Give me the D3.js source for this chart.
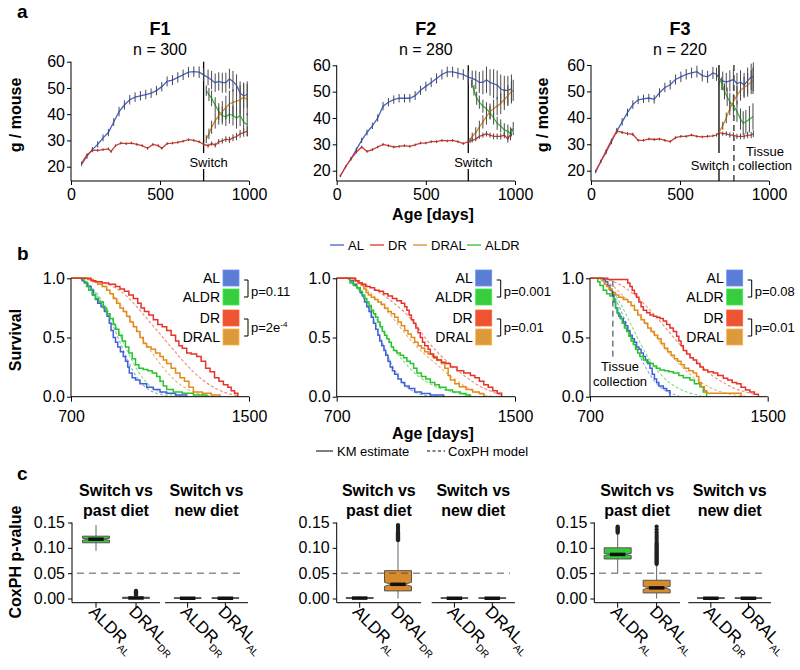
<!DOCTYPE html>
<html>
<head>
<meta charset="utf-8">
<script src="https://cdn.jsdelivr.net/npm/d3@7"></script>
<style>
body { margin: 0; background: #fff; }
svg { font-family: "Liberation Sans", Arial, sans-serif; }
</style>
</head>
<body>
<svg id="fig" width="800" height="670"></svg>
<script>
// ---------- data: panel a (body weight, [age, mean, se]) ----------
const cohorts = ['F1', 'F2', 'F3'];
const cohortN = [300, 280, 220];
const switchAge = [745, 738, 719];
const tissueAge = 803;

const f1AL = [[60,21,0.8],[90,24,1],[120,26.5,1],[150,28.5,1.2],[180,31,1.3],[210,33,1.4],[240,37,1.5],[270,41,1.8],[300,43.5,1.8],[330,45.5,1.8],[360,46.5,1.8],[390,47,1.8],[420,47.5,1.8],[450,48,1.8],[480,49,1.8],[510,50.5,1.8],[540,52.5,1.9],[570,53,1.9],[600,54,2],[630,55,2],[660,56,2],[690,56.2,2],[720,56,2.2],[745,55,2.5],[770,54,3],[790,53,3.5],[810,52,3.5],[830,52.5,3.5],[850,52,3.8],[870,52,3.8],[890,53.5,3.8],[910,52.5,4],[930,51,4.2],[950,48,4.5],[970,47,4.8],[990,47.5,5]];
const f1DR = [[60,21.5,0.4],[90,24.5,0.4],[120,26.3,0.4],[150,26.2,0.5],[180,26.5,0.5],[210,26.8,0.5],[225,25.8,0.5],[250,28,0.5],[280,29,0.5],[310,28.8,0.5],[340,29,0.5],[370,28.5,0.5],[400,28,0.5],[430,27,0.5],[460,28.5,0.5],[490,28,0.5],[510,27,0.5],[540,28.8,0.5],[570,29,0.5],[600,29.3,0.5],[630,29.7,0.5],[660,30.3,0.5],[690,30,0.5],[720,29.5,0.5],[745,28.5,0.6],[770,28,0.8],[790,28.8,0.8],[810,28.2,0.9],[830,29.5,1],[850,29.8,1],[870,30.5,1.1],[890,30.2,1.2],[910,31,1.3],[930,31.5,1.4],[950,32.5,1.5],[970,33,1.6],[990,33.5,1.8]];
const f1ALDR = [[760,49,2],[775,47.5,2.5],[790,46,3],[810,43.5,3],[830,41,3.2],[850,39.5,3.4],[870,39,3.5],[890,40,3.6],[910,39.5,3.8],[930,38.5,4],[950,39.5,4],[970,37,4.2],[990,36,4.5]];
const f1DRAL = [[760,30.5,1.5],[775,32.5,2],[790,35,2.5],[810,37.5,3],[830,39.5,3.5],[850,41,4],[870,42.5,4.5],[890,44,5],[910,44.5,5],[930,45,5.5],[950,45.5,5.5],[970,46.5,5.5],[990,45.5,6]];

const f2AL = [[20,18,0.5],[50,21.5,0.6],[80,24.5,0.7],[110,28,0.8],[140,31.5,1],[170,34.5,1.1],[200,37,1.2],[230,40,1.4],[260,44.5,1.6],[290,46,1.6],[320,47,1.6],[350,47.5,1.6],[380,47.5,1.6],[410,47.5,1.6],[440,48.5,1.7],[470,50.5,1.7],[500,52,1.8],[530,53.5,1.8],[560,55,1.9],[590,56.5,1.9],[620,57.5,2],[650,57.5,2],[680,57,2],[710,56.5,2],[738,55.5,2.5],[760,55,3],[780,54.5,3.5],[800,53.5,4],[820,53.5,4.5],[840,54.5,5],[860,53.5,5],[880,53,5.5],[900,52.5,5.5],[920,51,5.5],[940,50.5,5.5],[960,50.5,5.5],[980,51,5.5]];
const f2DR = [[20,18,0.3],[50,21.5,0.3],[80,24.5,0.4],[110,27,0.4],[140,29,0.5],[170,27.3,0.5],[200,28,0.5],[230,29,0.5],[260,30,0.5],[290,29.5,0.5],[320,29,0.5],[350,29.2,0.5],[380,29.5,0.5],[410,29.2,0.5],[440,29.8,0.5],[470,30.5,0.5],[500,30.5,0.5],[530,31,0.5],[560,31,0.5],[590,31.5,0.5],[620,31.3,0.5],[650,31.5,0.5],[680,31,0.5],[710,30.3,0.5],[738,31,0.6],[760,31.5,0.8],[780,32,0.8],[800,33,0.9],[820,33.5,1],[840,34,1],[860,33.5,1],[880,33,1.1],[900,33,1.1],[920,33,1.2],[940,33.5,1.2],[960,32,1.3],[980,34.5,1.5]];
const f2ALDR = [[757,53,1.5],[770,50.5,2],[785,47.5,2.5],[800,46,2.5],[820,44.5,2.5],[840,43.5,2.5],[860,42,2.5],[880,40,2.5],[900,38,2.5],[920,37,2.5],[940,35.5,2.5],[960,35,2.5],[975,34,2.5],[990,36,2.5]];
const f2DRAL = [[748,31.5,1],[760,33,1.5],[780,34.5,2],[800,36.5,2.5],[820,38.5,2.5],[840,40.5,3],[860,42.5,3],[880,43.5,3.5],[900,44.5,3.5],[920,45.5,4],[940,47,4],[960,48.5,4],[980,50,4],[990,50.5,4]];

const f3AL = [[26,19.5,0.5],[55,23.5,0.7],[85,27,0.8],[115,31,1],[145,35,1.2],[175,38.5,1.4],[205,42,1.5],[235,45,1.6],[265,46.8,1.6],[295,47.2,1.6],[325,47.5,1.6],[355,47,1.6],[385,49.5,1.7],[415,51.5,1.8],[445,52.5,1.8],[475,54.5,1.9],[505,55.5,2],[535,56.5,2],[565,57,2],[595,57.5,2.2],[625,56,2.2],[655,55.5,2.3],[685,57,2.3],[705,56.5,2.5],[719,55,3],[740,54,3.5],[760,53.5,3.5],[780,54,4],[800,54.5,4],[820,53,4],[840,53.5,4.5],[860,52.5,4.5],[880,54,5],[900,55.5,5],[912,55.5,5.5]];
const f3DR = [[26,20,0.3],[55,23.5,0.4],[85,27.5,0.5],[115,31.5,0.6],[145,35,0.7],[175,34.5,0.6],[205,34,0.6],[235,33.8,0.6],[265,31.5,0.5],[295,31.5,0.5],[325,32,0.5],[355,31.8,0.5],[385,32,0.5],[415,31.5,0.5],[445,31,0.5],[475,32.5,0.5],[505,33,0.5],[535,33,0.5],[565,33.5,0.5],[595,33,0.5],[625,32.8,0.5],[655,33,0.5],[685,33.2,0.5],[705,33.5,0.6],[719,34.5,0.8],[740,34,0.8],[760,34,0.9],[780,33.5,1],[800,33.5,1],[820,33,1],[840,33,1.1],[860,33,1.1],[880,33.5,1.2],[900,33.5,1.2],[912,34,1.3]];
const f3ALDR = [[719,55,2],[735,53,2.5],[750,50,3],[765,48,3.5],[780,46,3.5],[800,44.5,4],[820,42.5,4],[840,39.5,4],[855,38,4.5],[870,38.5,4.5],[890,39.5,5],[910,40.5,5]];
const f3DRAL = [[719,34.5,1],[740,37,1.5],[760,40,2],[780,43.5,2.5],[800,46,3],[820,48.5,3.5],[840,50.5,4],[860,51.5,4],[880,52.5,4.5],[900,53.5,4.5],[910,54,5]];

// ---------- data: panel b (survival, [age, fraction]) ----------
const km1AL = [[700,1],[745,1],[750,0.98],[760,0.96],[775,0.93],[790,0.9],[800,0.86],[810,0.82],[820,0.79],[835,0.76],[850,0.72],[862,0.68],[872,0.62],[880,0.56],[890,0.5],[900,0.46],[910,0.42],[922,0.38],[935,0.34],[945,0.3],[955,0.25],[962,0.2],[975,0.16],[990,0.14],[1010,0.11],[1040,0.08],[1070,0.06],[1100,0.04],[1130,0.03],[1170,0.015],[1220,0]];
const km1ALDR = [[700,1],[755,1],[760,0.97],[770,0.93],[780,0.9],[795,0.86],[810,0.83],[825,0.8],[845,0.75],[860,0.7],[875,0.66],[890,0.61],[900,0.57],[915,0.52],[930,0.47],[945,0.42],[960,0.37],[975,0.32],[990,0.27],[1005,0.24],[1025,0.23],[1045,0.22],[1065,0.2],[1085,0.17],[1100,0.13],[1115,0.09],[1130,0.06],[1160,0.04],[1200,0.03],[1250,0.015],[1310,0]];
const km1DRAL = [[700,1],[760,1],[775,0.99],[800,0.97],[820,0.95],[840,0.93],[860,0.9],[875,0.87],[890,0.83],[905,0.79],[920,0.75],[935,0.72],[950,0.68],[965,0.63],[980,0.59],[995,0.55],[1010,0.5],[1025,0.45],[1040,0.42],[1060,0.4],[1080,0.37],[1100,0.34],[1115,0.31],[1130,0.28],[1150,0.24],[1170,0.2],[1190,0.16],[1210,0.13],[1230,0.08],[1250,0.04],[1290,0.03],[1330,0.015],[1370,0]];
const km1DR = [[700,1],[770,1],[790,0.98],[810,0.97],[840,0.96],[870,0.95],[900,0.93],[920,0.91],[940,0.89],[960,0.86],[980,0.83],[1000,0.79],[1015,0.75],[1030,0.72],[1050,0.69],[1070,0.65],[1090,0.61],[1110,0.59],[1130,0.56],[1150,0.52],[1170,0.47],[1185,0.43],[1200,0.41],[1220,0.37],[1240,0.36],[1265,0.34],[1285,0.3],[1305,0.24],[1325,0.21],[1345,0.16],[1365,0.13],[1385,0.1],[1405,0.08],[1420,0.05],[1435,0.03],[1450,0]];
const cox1AL = [[740,1],[800,0.9],[850,0.75],[900,0.55],[950,0.33],[1000,0.15],[1050,0.06],[1100,0.02],[1150,0.003]];
const cox1ALDR = [[750,1],[800,0.91],[850,0.78],[900,0.6],[950,0.4],[1000,0.22],[1050,0.1],[1100,0.04],[1200,0.005]];
const cox1DRAL = [[760,1],[850,0.93],[900,0.83],[950,0.7],[1000,0.55],[1050,0.41],[1100,0.28],[1150,0.17],[1200,0.09],[1250,0.04],[1300,0.015],[1350,0.005]];
const cox1DR = [[760,1],[850,0.96],[900,0.92],[950,0.85],[1000,0.75],[1050,0.64],[1100,0.53],[1150,0.42],[1200,0.31],[1250,0.21],[1300,0.13],[1350,0.07],[1400,0.03],[1450,0.01]];

const km2AL = [[700,1],[745,1],[760,0.98],[775,0.95],[790,0.92],[805,0.88],[815,0.85],[825,0.8],[835,0.76],[845,0.72],[855,0.67],[865,0.62],[875,0.57],[885,0.52],[893,0.47],[902,0.43],[912,0.39],[920,0.35],[930,0.3],[940,0.25],[950,0.22],[960,0.19],[975,0.15],[990,0.12],[1005,0.09],[1025,0.07],[1050,0.04],[1080,0.028],[1120,0.014],[1180,0]];
const km2ALDR = [[700,1],[750,1],[760,0.96],[775,0.94],[790,0.92],[805,0.89],[815,0.86],[825,0.83],[835,0.8],[845,0.77],[855,0.73],[865,0.7],[875,0.67],[885,0.63],[895,0.59],[905,0.55],[915,0.52],[925,0.49],[935,0.46],[945,0.42],[955,0.39],[970,0.37],[985,0.35],[1000,0.33],[1015,0.3],[1030,0.28],[1045,0.24],[1060,0.2],[1080,0.17],[1100,0.15],[1120,0.12],[1140,0.1],[1160,0.08],[1190,0.056],[1220,0.04],[1255,0.028],[1280,0.015],[1300,0]];
const km2DRAL = [[700,1],[760,1],[780,0.98],[795,0.96],[810,0.94],[822,0.91],[832,0.88],[842,0.86],[855,0.84],[870,0.82],[885,0.8],[900,0.78],[915,0.75],[930,0.72],[945,0.7],[960,0.67],[975,0.63],[990,0.6],[1005,0.56],[1020,0.53],[1035,0.5],[1050,0.46],[1065,0.43],[1080,0.41],[1095,0.38],[1110,0.36],[1130,0.34],[1150,0.31],[1170,0.28],[1185,0.24],[1200,0.18],[1210,0.14],[1230,0.11],[1250,0.085],[1280,0.06],[1310,0.04],[1340,0.028],[1360,0]];
const km2DR = [[700,1],[765,1],[785,0.98],[800,0.96],[815,0.95],[830,0.93],[850,0.92],[870,0.9],[890,0.89],[910,0.87],[930,0.85],[950,0.83],[970,0.81],[990,0.79],[1005,0.76],[1015,0.73],[1025,0.69],[1035,0.65],[1045,0.62],[1055,0.58],[1065,0.54],[1075,0.5],[1085,0.46],[1095,0.43],[1110,0.4],[1120,0.36],[1135,0.33],[1150,0.31],[1170,0.29],[1190,0.28],[1210,0.25],[1240,0.22],[1270,0.2],[1300,0.18],[1320,0.16],[1340,0.13],[1360,0.1],[1380,0.08],[1400,0.05],[1420,0.03],[1440,0]];
const cox2AL = [[745,1],[800,0.9],[850,0.72],[900,0.48],[950,0.26],[1000,0.11],[1050,0.04],[1100,0.01],[1150,0.002]];
const cox2ALDR = [[750,1],[800,0.9],[850,0.76],[900,0.58],[950,0.42],[1000,0.3],[1050,0.2],[1100,0.13],[1150,0.08],[1200,0.05],[1250,0.025],[1300,0.01]];
const cox2DRAL = [[760,1],[800,0.96],[850,0.88],[900,0.78],[950,0.67],[1000,0.55],[1050,0.44],[1100,0.35],[1150,0.27],[1200,0.19],[1250,0.12],[1300,0.06],[1350,0.02],[1400,0.005]];
const cox2DR = [[765,1],[850,0.93],[900,0.87],[950,0.8],[1000,0.72],[1050,0.62],[1100,0.49],[1150,0.38],[1200,0.29],[1250,0.21],[1300,0.14],[1350,0.08],[1400,0.04],[1440,0.01]];

const km3AL = [[700,1],[750,1],[760,0.99],[770,0.97],[780,0.94],[790,0.9],[800,0.86],[808,0.8],[815,0.75],[822,0.71],[830,0.68],[840,0.66],[850,0.63],[860,0.6],[870,0.56],[880,0.52],[890,0.49],[900,0.46],[910,0.42],[920,0.4],[930,0.37],[940,0.34],[950,0.31],[960,0.28],[970,0.24],[980,0.19],[990,0.15],[1000,0.12],[1010,0.09],[1030,0.07],[1045,0.05],[1060,0]];
const km3ALDR = [[700,1],[725,1],[735,0.97],[745,0.94],[760,0.9],[775,0.87],[790,0.85],[805,0.82],[815,0.75],[825,0.7],[835,0.66],[845,0.62],[855,0.58],[865,0.55],[875,0.51],[885,0.47],[895,0.44],[905,0.4],[915,0.37],[925,0.34],[940,0.31],[955,0.29],[970,0.28],[985,0.26],[1000,0.24],[1015,0.225],[1035,0.22],[1055,0.21],[1075,0.2],[1100,0.18],[1120,0.16],[1150,0.14],[1170,0.11],[1195,0.085],[1210,0.04],[1225,0]];
const km3DRAL = [[700,1],[745,1],[755,0.98],[765,0.95],[775,0.93],[785,0.91],[800,0.88],[815,0.86],[830,0.84],[850,0.82],[870,0.8],[885,0.77],[900,0.73],[915,0.69],[930,0.65],[945,0.62],[960,0.58],[975,0.55],[990,0.52],[1005,0.49],[1020,0.45],[1035,0.41],[1050,0.38],[1065,0.35],[1080,0.32],[1095,0.3],[1110,0.27],[1125,0.24],[1145,0.22],[1165,0.2],[1180,0.17],[1190,0.12],[1200,0.085],[1215,0.05],[1225,0.03],[1370,0.03],[1380,0]];
const km3DR = [[700,1],[765,1],[780,0.99],[860,0.99],[870,0.96],[880,0.93],[890,0.9],[900,0.87],[910,0.84],[920,0.8],[930,0.76],[940,0.73],[955,0.71],[970,0.69],[985,0.68],[1000,0.67],[1015,0.66],[1030,0.64],[1045,0.61],[1060,0.58],[1075,0.55],[1090,0.51],[1100,0.47],[1110,0.43],[1120,0.39],[1135,0.36],[1150,0.33],[1165,0.31],[1180,0.28],[1195,0.25],[1210,0.225],[1230,0.21],[1255,0.2],[1275,0.18],[1300,0.155],[1320,0.14],[1340,0.12],[1360,0.11],[1380,0.08],[1400,0.056],[1420,0.04],[1440,0.02],[1458,0]];
const cox3AL = [[745,1],[800,0.88],[850,0.68],[900,0.45],[950,0.25],[1000,0.11],[1050,0.04],[1100,0.01]];
const cox3ALDR = [[740,1],[800,0.9],[850,0.74],[900,0.55],[950,0.37],[1000,0.23],[1050,0.13],[1100,0.07],[1150,0.03],[1200,0.01]];
const cox3DRAL = [[750,1],[800,0.94],[850,0.85],[900,0.74],[950,0.62],[1000,0.5],[1050,0.38],[1100,0.28],[1150,0.19],[1200,0.12],[1250,0.07],[1300,0.035],[1350,0.015],[1400,0.005]];
const cox3DR = [[765,1],[850,0.93],[900,0.86],[950,0.77],[1000,0.67],[1050,0.56],[1100,0.45],[1150,0.35],[1200,0.26],[1250,0.18],[1300,0.12],[1350,0.07],[1400,0.04],[1450,0.015]];

const pAL_ALDR = ['0.11', '0.001', '0.08'];
const pDR_DRAL = [['2e', '-4'], ['0.01', ''], ['0.01', '']];

// ---------- data: panel c (CoxPH p-value boxplots) ----------
// stats: [whiskerLow, q1, median, q3, whiskerHigh], notch: [low, high]
const boxF1 = [
  {name:'ALDR', sub:'AL', stats:[0.094,0.110,0.117,0.123,0.145], notch:[0.115,0.119], out:[]},
  {name:'DRAL', sub:'DR', stats:[0,0.0003,0.001,0.0025,0.006], notch:[0.0008,0.0012], out:[0.007,0.008,0.009,0.010,0.011,0.012,0.013,0.014,0.015]},
  {name:'ALDR', sub:'DR', stats:[0,0,0.0005,0.0015,0.003], notch:[0.0003,0.0008], out:[]},
  {name:'DRAL', sub:'AL', stats:[0,0,0.0005,0.0015,0.003], notch:[0.0003,0.0008], out:[]}
];
const boxF2 = [
  {name:'ALDR', sub:'AL', stats:[0,0,0.0008,0.002,0.004], notch:[0.0005,0.001], out:[]},
  {name:'DRAL', sub:'DR', stats:[0,0.015,0.028,0.055,0.114], notch:[0.024,0.032], out:[0.115,0.117,0.119,0.121,0.123,0.125,0.127,0.129,0.131,0.133,0.135,0.137,0.139,0.141,0.143,0.145]},
  {name:'ALDR', sub:'DR', stats:[0,0,0.0005,0.0015,0.003], notch:[0.0003,0.0008], out:[]},
  {name:'DRAL', sub:'AL', stats:[0,0,0.0005,0.0015,0.003], notch:[0.0003,0.0008], out:[]}
];
const boxF3 = [
  {name:'ALDR', sub:'AL', stats:[0.050,0.078,0.087,0.100,0.128], notch:[0.085,0.089], out:[0.130,0.132,0.134,0.136,0.138,0.140,0.142]},
  {name:'DRAL', sub:'AL', stats:[0,0.011,0.021,0.036,0.066], notch:[0.018,0.024], out:[0.068,0.070,0.072,0.074,0.076,0.078,0.080,0.082,0.084,0.086,0.088,0.090,0.092,0.094,0.096,0.098,0.100,0.102,0.104,0.106,0.108,0.110,0.114,0.118,0.122,0.126,0.131,0.136,0.142]},
  {name:'ALDR', sub:'DR', stats:[0,0,0.0005,0.0015,0.003], notch:[0.0003,0.0008], out:[]},
  {name:'DRAL', sub:'AL', stats:[0,0,0.0005,0.0015,0.003], notch:[0.0003,0.0008], out:[]}
];
const groupTitles = [['Switch vs', 'past diet'], ['Switch vs', 'new diet']];
const pTicks = [0, 0.05, 0.10, 0.15];
const pThreshold = 0.05;

// ---------- styles ----------
const lineColor = {AL:'#3e62d4', DR:'#e5332a', DRAL:'#e38a1d', ALDR:'#27c42d'};
const coxColor = {AL:'#8ea6ea', DR:'#f1877a', DRAL:'#ebb574', ALDR:'#82dd85'};
const keyColor = {AL:'#5b7dd6', ALDR:'#37cd3f', DR:'#ec5432', DRAL:'#dc9a3b'};
const boxColor = {ALDR:'#37c83a', DRAL:'#d98b2b'};

const weights = [
  {AL:f1AL, DR:f1DR, ALDR:f1ALDR, DRAL:f1DRAL},
  {AL:f2AL, DR:f2DR, ALDR:f2ALDR, DRAL:f2DRAL},
  {AL:f3AL, DR:f3DR, ALDR:f3ALDR, DRAL:f3DRAL}
];
const kms = [
  {AL:km1AL, ALDR:km1ALDR, DRAL:km1DRAL, DR:km1DR},
  {AL:km2AL, ALDR:km2ALDR, DRAL:km2DRAL, DR:km2DR},
  {AL:km3AL, ALDR:km3ALDR, DRAL:km3DRAL, DR:km3DR}
];
const coxs = [
  {AL:cox1AL, ALDR:cox1ALDR, DRAL:cox1DRAL, DR:cox1DR},
  {AL:cox2AL, ALDR:cox2ALDR, DRAL:cox2DRAL, DR:cox2DR},
  {AL:cox3AL, ALDR:cox3ALDR, DRAL:cox3DRAL, DR:cox3DR}
];
const boxes = [boxF1, boxF2, boxF3];

const svg = d3.select('#fig');

function styleAxis(g, size) {
  g.select('.domain').remove();
  g.selectAll('.tick line').attr('stroke', '#000');
  g.selectAll('.tick text').attr('font-size', size).attr('fill', '#000')
    .attr('font-family', '"Liberation Sans", Arial, sans-serif');
}
function hline(g, x1, x2, y) {
  return g.append('line').attr('x1', x1).attr('x2', x2).attr('y1', y).attr('y2', y).attr('stroke', '#000');
}
function vline(g, x, y1, y2) {
  return g.append('line').attr('x1', x).attr('x2', x).attr('y1', y1).attr('y2', y2).attr('stroke', '#000');
}
function label(g, x, y, txt, size, opts) {
  opts = opts || {};
  const t = g.append('text').attr('x', x).attr('y', y).attr('font-size', size)
    .attr('text-anchor', opts.anchor || 'middle').text(txt);
  if (opts.bold) t.attr('font-weight', 'bold');
  if (opts.rot) t.attr('transform', `rotate(${opts.rot},${x},${y})`);
  return t;
}

// ---------- panel a ----------
const aLayout = [
  {x0:71, x1:249, y20:166.7, y60:61.7},
  {x0:336.7, x1:515, y20:170.7, y60:65.3},
  {x0:591, x1:769, y20:170.7, y60:65}
];
const aBottom = 181;

label(svg, 17, 18, 'a', 19, {anchor:'start', bold:true});

cohorts.forEach((c, i) => {
  const L = aLayout[i];
  const g = svg.append('g');
  const x = d3.scaleLinear([0, 1000], [L.x0, L.x1]);
  const y = d3.scaleLinear([20, 60], [L.y20, L.y60]);

  g.append('g').attr('transform', `translate(0,${aBottom})`)
    .call(d3.axisBottom(x).tickValues([0, 500, 1000]).tickFormat(d3.format('d')).tickSize(4).tickPadding(4))
    .call(ax => styleAxis(ax, 16));
  hline(g, L.x0, L.x1, aBottom);
  g.append('g').attr('transform', `translate(${L.x0},0)`)
    .call(d3.axisLeft(y).tickValues([20, 30, 40, 50, 60]).tickSize(4).tickPadding(2))
    .call(ax => styleAxis(ax, 16));
  vline(g, L.x0, L.y60, aBottom);

  const cx = (L.x0 + L.x1) / 2;
  label(g, cx, 35, c, 18, {bold:true});
  label(g, cx, 55, 'n = ' + cohortN[i], 16);

  // switch marker
  const sx = x(switchAge[i]);
  vline(g, sx, L.y60, aBottom - 28).attr('stroke-width', 1.3);
  vline(g, sx, aBottom - 12, aBottom).attr('stroke-width', 1.3);
  if (i === 2) {
    const tx = x(tissueAge);
    vline(g, tx, L.y60, aBottom).attr('stroke-dasharray', '6,4').attr('stroke-width', 1.1);
    label(g, sx - 9, 170, 'Switch', 13);
    label(g, 765, 156, 'Tissue', 13);
    label(g, 765, 170, 'collection', 13);
  } else {
    label(g, sx + 5, 167, 'Switch', 13);
  }

  const line = d3.line().x(d => x(d[0])).y(d => y(d[1]));
  ['AL', 'DR', 'ALDR', 'DRAL'].forEach(k => {
    const data = weights[i][k];
    g.append('path').datum(data).attr('d', line).attr('fill', 'none')
      .attr('stroke', lineColor[k]).attr('stroke-width', 1.3);
    g.selectAll(null).data(data).enter().append('line')
      .attr('x1', d => x(d[0])).attr('x2', d => x(d[0]))
      .attr('y1', d => y(d[1] - d[2])).attr('y2', d => y(d[1] + d[2]))
      .attr('stroke', '#4a4a4a').attr('stroke-width', 1);
  });
});
label(svg, 21, 115, 'g / mouse', 16, {bold:true, rot:-90});
label(svg, 548, 115, 'g / mouse', 16, {bold:true, rot:-90});
label(svg, 433, 220, 'Age [days]', 16, {bold:true});

// colour legend
const legendItems = [['AL', 330], ['DR', 370], ['DRAL', 413], ['ALDR', 467]];
legendItems.forEach(([k, lx]) => {
  svg.append('line').attr('x1', lx).attr('x2', lx + 14).attr('y1', 245).attr('y2', 245)
    .attr('stroke', lineColor[k]).attr('stroke-width', 1.3);
  label(svg, lx + 18, 249.5, k, 13, {anchor:'start'});
});

// ---------- panel b ----------
const bLayout = [{x0:71, x1:249}, {x0:336.7, x1:515}, {x0:590, x1:767.7}];
const keyX = [223, 475.7, 726.7];
const keyRows = [['AL', 270], ['ALDR', 289], ['DR', 310], ['DRAL', 329]];

label(svg, 17, 260, 'b', 19, {anchor:'start', bold:true});

cohorts.forEach((c, i) => {
  const L = bLayout[i];
  const g = svg.append('g');
  const x = d3.scaleLinear([700, 1500], [L.x0, L.x1]);
  const y = d3.scaleLinear([0, 1], [396.7, 278.3]);

  const step = d3.line().x(d => x(d[0])).y(d => y(d[1])).curve(d3.curveStepAfter);
  const smooth = d3.line().x(d => x(d[0])).y(d => y(d[1])).curve(d3.curveMonotoneX);

  ['AL', 'ALDR', 'DRAL', 'DR'].forEach(k => {
    g.append('path').datum(coxs[i][k]).attr('d', smooth).attr('fill', 'none')
      .attr('stroke', coxColor[k]).attr('stroke-width', 1.1).attr('stroke-dasharray', '3,2');
  });
  ['AL', 'ALDR', 'DRAL', 'DR'].forEach(k => {
    g.append('path').datum(kms[i][k]).attr('d', step).attr('fill', 'none')
      .attr('stroke', lineColor[k]).attr('stroke-width', 1.5);
  });

  g.append('g').attr('transform', `translate(0,${y(0)})`)
    .call(d3.axisBottom(x).tickValues([700, 1500]).tickFormat(d3.format('d')).tickSize(5).tickPadding(9))
    .call(ax => styleAxis(ax, 16));
  hline(g, L.x0, L.x1, y(0));
  g.append('g').attr('transform', `translate(${L.x0},0)`)
    .call(d3.axisLeft(y).tickValues([0, 0.5, 1]).tickFormat(d3.format('.1f')).tickSize(4).tickPadding(2))
    .call(ax => styleAxis(ax, 16));
  vline(g, L.x0, y(1), y(0));

  // key boxes
  const kx = keyX[i];
  keyRows.forEach(([k, ky]) => {
    g.append('rect').attr('x', kx).attr('y', ky).attr('width', 16).attr('height', 16)
      .attr('fill', keyColor[k]).attr('stroke', d3.color(keyColor[k]).brighter(0.4)).attr('stroke-width', 0.8);
    label(g, kx - 3, ky + 13, k, 14, {anchor:'end'});
  });
  const br = (y1, y2) => g.append('path')
    .attr('d', `M${kx + 21},${y1}H${kx + 25}V${y2}H${kx + 21}`)
    .attr('fill', 'none').attr('stroke', '#000').attr('stroke-width', 1);
  br(280, 297);
  br(319, 336);
  label(g, kx + 28, 296, 'p=' + pAL_ALDR[i], 13, {anchor:'start'});
  const pt = label(g, kx + 28, 332, 'p=' + pDR_DRAL[i][0], 13, {anchor:'start'});
  if (pDR_DRAL[i][1]) {
    pt.append('tspan').attr('font-size', 8).attr('dy', -5).text(pDR_DRAL[i][1]);
  }

  if (i === 2) {
    const tx = x(tissueAge);
    vline(g, tx, y(0.98), 360).attr('stroke-dasharray', '6,4').attr('stroke', '#333');
    label(g, 620, 371, 'Tissue', 13);
    label(g, 620, 386, 'collection', 13);
  }
});
label(svg, 21, 340, 'Survival', 16, {bold:true, rot:-90});
label(svg, 433, 439, 'Age [days]', 16, {bold:true});

// KM / CoxPH legend
svg.append('line').attr('x1', 316).attr('x2', 333).attr('y1', 451).attr('y2', 451).attr('stroke', '#000');
label(svg, 337, 455.5, 'KM estimate', 13, {anchor:'start'});
svg.append('line').attr('x1', 427).attr('x2', 445).attr('y1', 451).attr('y2', 451)
  .attr('stroke', '#000').attr('stroke-dasharray', '3,2.5');
label(svg, 448, 455.5, 'CoxPH model', 13, {anchor:'start'});

// ---------- panel c ----------
const cLayout = [
  {yAxis:72, groups:[[72, 160], [165, 248]], dash:[77, 245]},
  {yAxis:336.7, groups:[[336.7, 421], [431.7, 515]], dash:[341, 510]},
  {yAxis:594.3, groups:[[594.3, 680], [688.3, 771]], dash:[599, 766]}
];
const cBottom = 602.7;
const boxW = 27;

label(svg, 17, 480, 'c', 19, {anchor:'start', bold:true});

cohorts.forEach((c, i) => {
  const L = cLayout[i];
  const g = svg.append('g');
  const y = d3.scaleLinear([0, 0.15], [598.5, 522.5]);

  g.append('g').attr('transform', `translate(${L.yAxis},0)`)
    .call(d3.axisLeft(y).tickValues(pTicks).tickFormat(d3.format('.2f')).tickSize(4).tickPadding(3))
    .call(ax => styleAxis(ax, 16));
  vline(g, L.yAxis, y(0.15), cBottom);

  L.groups.forEach((rng, gi) => {
    const items = boxes[i].slice(gi * 2, gi * 2 + 2);
    const x = d3.scalePoint().domain([0, 1]).range(rng).padding(0.6);
    hline(g, rng[0], rng[1], cBottom);
    const tcx = (rng[0] + rng[1]) / 2;
    label(g, tcx, 496, groupTitles[gi][0], 16, {bold:true});
    label(g, tcx, 516, groupTitles[gi][1], 16, {bold:true});

    items.forEach((b, j) => {
      const cx = x(j);
      const [lo, q1, med, q3, hi] = b.stats;
      const col = boxColor[b.name];
      // whiskers
      g.append('line').attr('x1', cx).attr('x2', cx).attr('y1', y(q3)).attr('y2', y(hi))
        .attr('stroke', '#666');
      g.append('line').attr('x1', cx).attr('x2', cx).attr('y1', y(q1)).attr('y2', y(lo))
        .attr('stroke', '#666');
      // notched box
      const l = cx - boxW / 2, r = cx + boxW / 2, q = boxW / 4;
      const pts = [[l, y(q3)], [r, y(q3)], [r, y(b.notch[1])], [cx + q, y(med)], [r, y(b.notch[0])],
        [r, y(q1)], [l, y(q1)], [l, y(b.notch[0])], [cx - q, y(med)], [l, y(b.notch[1])]];
      g.append('path').attr('d', 'M' + pts.map(p => p.join(',')).join('L') + 'Z')
        .attr('fill', col).attr('stroke', '#555').attr('stroke-width', 1);
      g.append('line').attr('x1', cx - q - 1).attr('x2', cx + q + 1).attr('y1', y(med)).attr('y2', y(med))
        .attr('stroke', '#111').attr('stroke-width', 3.5);
      g.selectAll(null).data(b.out).enter().append('circle')
        .attr('cx', cx).attr('cy', d => y(d)).attr('r', 2.1).attr('fill', '#222');
      // tick + rotated label
      vline(g, cx, cBottom, cBottom + 5);
      const t = g.append('text').attr('font-size', 17)
        .attr('transform', `translate(${cx - 8},${cBottom + 10}) rotate(45)`);
      t.append('tspan').text(b.name);
      t.append('tspan').attr('font-size', 10).attr('dy', 5).text(b.sub);
    });
  });

  g.append('line').attr('x1', L.dash[0]).attr('x2', L.dash[1])
    .attr('y1', y(pThreshold)).attr('y2', y(pThreshold))
    .attr('stroke', '#555').attr('stroke-dasharray', '7,5');
});
label(svg, 21, 562, 'CoxPH p-value', 16, {bold:true, rot:-90});
</script>
</body>
</html>
